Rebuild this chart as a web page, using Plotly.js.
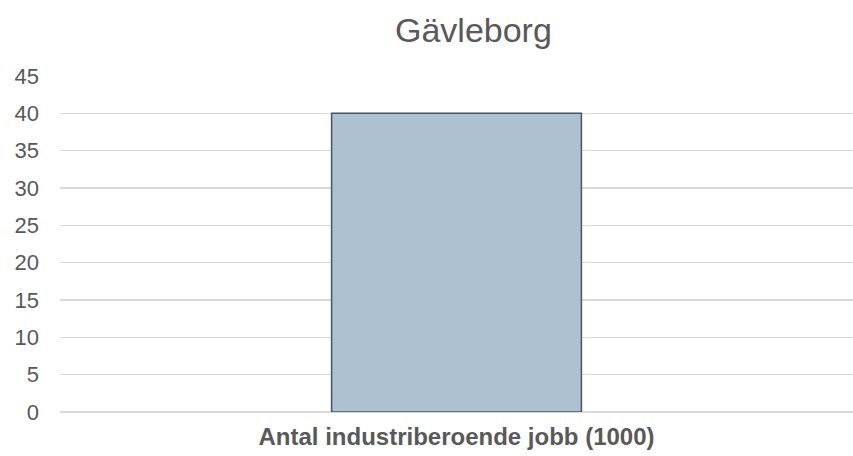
<!DOCTYPE html>
<html><head><meta charset="utf-8">
<script src="https://cdn.plot.ly/plotly-3.0.1.min.js"></script>
<style>html,body{margin:0;padding:0;background:#fff;}#chart{width:853px;height:456px;}</style>
</head><body><div id="chart"></div>
<script>
const categories = ["Antal industriberoende jobb (1000)"];
const values = [40];
const yTicks = [0, 5, 10, 15, 20, 25, 30, 35, 40, 45];

Plotly.newPlot('chart', [{
  type: 'bar',
  x: categories,
  y: values,
  marker: {color: '#adc1d0', line: {color: '#44546a', width: 1.5}},
  hoverinfo: 'none'
}], {
  width: 853, height: 456,
  margin: {l: 60, r: 0, t: 76, b: 44},
  paper_bgcolor: '#fff', plot_bgcolor: '#fff',
  bargap: 0.685,
  showlegend: false,
  title: {text: 'Gävleborg', x: 0.555, xanchor: 'center', y: 0.935, yanchor: 'middle',
          font: {family: 'Liberation Sans, Arial, sans-serif', size: 34, color: '#595959'}},
  xaxis: {
    showgrid: false, zeroline: false, showline: false, ticks: '',
    tickfont: {family: 'Liberation Sans, Arial, sans-serif', size: 24, color: '#595959', weight: 'bold'},
    ticklabelstandoff: 8,
    fixedrange: true
  },
  yaxis: {
    range: [0, 45], tickvals: yTicks, ticktext: yTicks.map(String),
    showgrid: true, gridcolor: '#d9d9d9', gridwidth: 1.3,
    zeroline: true, zerolinecolor: '#d9d9d9', zerolinewidth: 1.3,
    showline: false, ticks: '',
    tickfont: {family: 'Liberation Sans, Arial, sans-serif', size: 22, color: '#595959'},
    ticklabelstandoff: 20,
    automargin: false, fixedrange: true
  }
}, {displayModeBar: false, staticPlot: true});
</script></body></html>
